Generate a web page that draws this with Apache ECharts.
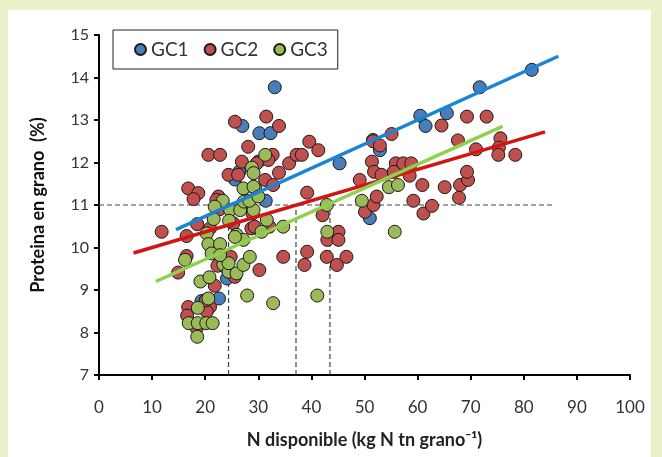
<!DOCTYPE html>
<html><head><meta charset="utf-8">
<script src="https://cdn.jsdelivr.net/npm/echarts@6/dist/echarts.min.js"></script>
<style>html,body{margin:0;padding:0;background:#e9f1cb;}#c{width:662px;height:457px;}</style>
</head><body><div id="c"></div>
<script>
const seriesNames = ['GC1','GC2','GC3'];
const xTicks = [0,10,20,30,40,50,60,70,80,90,100];
const yTicks = [7,8,9,10,11,12,13,14,15];

const gc1 = [[33.1,13.77],[27.0,12.86],[30.2,12.69],[32.3,12.69],[25.6,11.6],[26.4,11.78],[31.4,11.1],[45.3,11.98],[51.0,10.69],[51.6,12.53],[52.9,12.29],[60.5,13.1],[61.5,12.86],[65.5,13.16],[71.7,13.77],[81.5,14.18],[22.6,8.8],[24.1,9.27],[19.3,8.74]];

const gc2 = [[11.8,10.37],[16.5,10.27],[16.5,9.8],[14.9,9.41],[16.8,11.39],[18.7,11.28],[17.8,11.14],[18.5,10.55],[20.6,12.18],[22.8,12.18],[22.5,11.2],[20.9,10.45],[21.8,9.1],[22.3,9.57],[16.8,8.6],[20.9,8.6],[20.3,8.49],[18.4,8.1],[20.1,8.76],[16.6,8.4],
[25.6,12.96],[24.4,11.71],[26.2,11.71],[26.9,12.02],[28.1,12.37],[30.0,12.02],[31.5,13.08],[33.9,12.86],[32.7,12.18],[31.9,12.06],[29.7,11.98],[31.3,11.59],[33.9,11.76],[32.8,11.47],[35.8,11.98],[37.2,12.18],[38.2,12.18],[39.6,12.49],[41.3,12.29],[39.2,11.29],
[24.8,9.78],[25.6,9.31],[28.7,10.45],[30.2,9.47],[34.7,9.78],[39.2,9.9],[38.7,9.59],[42.1,10.76],[43.0,10.18],[45.1,10.37],[45.1,10.18],[42.9,9.78],[44.8,9.59],[46.6,9.78],
[22.1,11.12],[29.3,10.49],[28.9,10.8],[25.3,10.57],[32.1,10.49],[23.5,9.63],[24.1,9.5],[22.7,10.9],[27.5,11.0],
[49.1,11.59],[50.1,10.84],[51.7,11.0],[52.3,11.2],[51.4,12.02],[51.8,11.78],[51.6,12.5],[52.9,12.4],[53.2,11.71],[55.1,12.67],[55.9,11.98],[57.3,11.98],[58.8,11.98],[55.5,11.78],[58.5,11.69],[60.9,11.47],[59.2,11.1],[61.1,10.8],[62.7,10.98],[65.1,11.42],[68.0,11.47],[69.5,11.59],[69.3,11.78],[67.8,11.17],[64.5,12.87],[67.6,12.52],[69.3,13.08],[73.0,13.08],[75.6,12.57],[75.3,12.35],[75.2,12.18],[78.4,12.18],[71.0,12.31]];

const gc3 = [[16.2,9.71],[19.1,9.2],[20.8,9.3],[20.6,8.8],[18.6,8.58],[16.9,8.22],[18.6,8.22],[20.2,8.22],[21.4,8.22],[18.5,7.9],[27.9,8.87],[32.8,8.69],[41.1,8.87],[43.0,10.37],[42.9,11.0],[49.5,11.1],[54.6,11.42],[56.3,11.47],[55.7,10.37],[34.7,10.49],[31.3,12.18],[28.8,11.88],[29.1,11.75],[27.2,11.39],[29.4,11.39],[23.3,11.1],[24.7,10.88],[26.6,10.88],[29.1,10.88],[27.3,11.08],[24.5,10.63],[21.6,10.67],[20.3,10.33],[20.6,10.08],[21.2,9.86],[22.8,10.08],[21.8,10.96],[25.9,10.3],[27.2,10.18],[30.6,10.37],[31.6,10.65],[29.1,11.43],[23.4,9.6],[24.4,9.43],[25.9,9.39],[27.2,9.59],[28.4,9.78],[24.4,9.63],[22.8,9.82],[25.6,10.25],[28.3,11.1],[30.0,11.2]];

const trend1 = [[14.5,10.42],[86.5,14.5]];
const trend2 = [[6.5,9.87],[84,12.72]];
const trend3 = [[10.7,9.2],[76,12.85]];

const refH = [[0,11],[85.5,11]];
const refV1 = [[24.4,7],[24.4,11]];
const refV2 = [[37.1,7],[37.1,11]];
const refV3 = [[43.5,7],[43.5,11]];

const markerColors = ['#4a7ebb','#c0504d','#9bbb59'];
const lineColors = ['#1b84d6','#d41414','#8ed14e'];
const FONT = 'Lato';

const chart = echarts.init(document.getElementById('c'), null, {renderer:'canvas'});
function dashed(d){return {type:'line',data:d,symbol:'none',silent:true,z:1,lineStyle:{color:'#444',width:1.2,type:[5,3]}};}
function sc(name,d,i){return {name:name,type:'scatter',data:d,symbol:'circle',symbolSize:13,z:2,itemStyle:{color:markerColors[i],borderColor:'#1a1a1a',borderWidth:1,opacity:1}};}
function tr(d,i){return {type:'line',data:d,symbol:'none',silent:true,z:3,lineStyle:{color:lineColors[i],width:3.5}};}

chart.setOption({
  backgroundColor:'#e9f1cb',
  animation:false,
  textStyle:{fontFamily:FONT},
  graphic:[{type:'rect',z:-100,silent:true,shape:{x:8,y:10,width:643,height:460},style:{fill:'#ffffff'}}],
  legend:{
    data:seriesNames, left:113, top:30, orient:'horizontal',
    padding:[10,10,10,21], itemGap:15, itemWidth:11, itemHeight:11,
    borderColor:'#222', borderWidth:1, icon:'circle',
    textStyle:{fontSize:19,color:'#333',fontFamily:FONT}
  },
  grid:{left:99,right:32,top:35,bottom:82,containLabel:false},
  xAxis:{type:'value',min:0,max:100,interval:10,
    axisLine:{show:true,onZero:false,lineStyle:{color:'#000',width:2}},
    axisTick:{show:true,length:5,inside:false,lineStyle:{color:'#000',width:2}},
    splitLine:{show:false},
    axisLabel:{fontSize:17,color:'#333',margin:24,fontFamily:FONT},
    name:'N disponible (kg N tn grano\u207B\u00B9)', nameLocation:'middle', nameGap:56,
    nameTextStyle:{fontSize:18,color:'#222',fontWeight:'bold',fontFamily:FONT}
  },
  yAxis:{type:'value',min:7,max:15,interval:1,
    axisLine:{show:true,onZero:false,lineStyle:{color:'#000',width:2}},
    axisTick:{show:true,length:5,inside:false,lineStyle:{color:'#000',width:2}},
    splitLine:{show:false},
    axisLabel:{fontSize:16,color:'#333',margin:10,fontFamily:FONT},
    name:'Proteina en grano  (%)', nameLocation:'middle', nameGap:52, nameRotate:90,
    nameTextStyle:{fontSize:18,color:'#111',fontWeight:'bold',fontFamily:FONT}
  },
  series:[
    dashed(refH),dashed(refV1),dashed(refV2),dashed(refV3),
    sc(seriesNames[0],gc1,0),sc(seriesNames[1],gc2,1),sc(seriesNames[2],gc3,2),
    tr(trend1,0),tr(trend2,1),tr(trend3,2)
  ]
});
</script></body></html>
